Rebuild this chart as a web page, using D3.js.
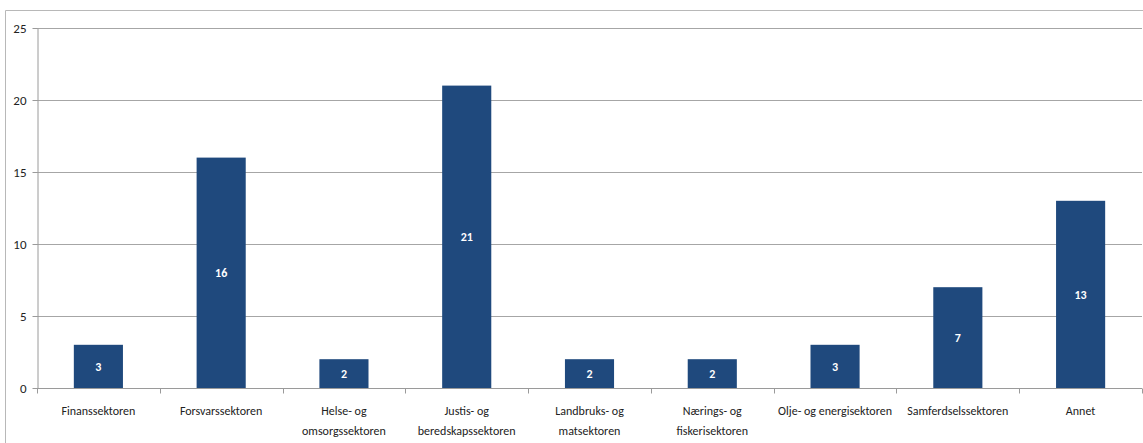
<!DOCTYPE html>
<html>
<head>
<meta charset="utf-8">
<script src="https://cdn.jsdelivr.net/npm/d3@7"></script>
<style>
  body { margin: 0; background: #fff; }
  svg text { font-family: Carlito, 'Liberation Sans Narrow', 'Liberation Sans', sans-serif; }
  .axis text { font-size: 12px; fill: #222; }
  .axis path, .axis line { stroke: #9a9a9a; }
  .grid line { stroke: #a6a6a6; }
  .val { font-size: 12px; font-weight: bold; fill: #fff; }
</style>
</head>
<body>
<svg id="chart"></svg>
<script>
// categories (label lines) and values
const categories = [
  ['Finanssektoren'],
  ['Forsvarssektoren'],
  ['Helse- og', 'omsorgssektoren'],
  ['Justis- og', 'beredskapssektoren'],
  ['Landbruks- og', 'matsektoren'],
  ['Nærings- og', 'fiskerisektoren'],
  ['Olje- og energisektoren'],
  ['Samferdselssektoren'],
  ['Annet']
];
const values = [3, 16, 2, 21, 2, 2, 3, 7, 13];
const yTicks = [0, 5, 10, 15, 20, 25];

const width = 1143, height = 443;
const margin = { top: 28, right: 1, left: 37, bottom: 55 };
const innerW = width - margin.left - margin.right;
const innerH = height - margin.top - margin.bottom;

const svg = d3.select('#chart').attr('width', width).attr('height', height);

// outer chart border (only top and left visible)
svg.append('path')
  .attr('d', `M5.5,${height} V10.5 H${width}`)
  .attr('fill', 'none')
  .attr('stroke', '#b8b8b8');

const chart = svg.append('g')
  .attr('transform', `translate(${margin.left},${margin.top})`);

const keys = categories.map(d => d.join(' '));
const data = keys.map((k, i) => ({ key: k, lines: categories[i], value: values[i] }));

const xScale = d3.scaleBand().domain(keys).range([0, innerW]).paddingInner(0.6).paddingOuter(0.3);
const yScale = d3.scaleLinear().domain([0, 25]).range([innerH, 0]);

// gridlines
chart.append('g').attr('class', 'grid')
  .selectAll('line')
  .data(yTicks.filter(t => t > 0))
  .join('line')
  .attr('x1', 0).attr('x2', innerW)
  .attr('y1', d => Math.round(yScale(d)) + 0.5)
  .attr('y2', d => Math.round(yScale(d)) + 0.5);

// y axis
const yAxisG = chart.append('g').attr('class', 'axis y-axis')
  .attr('transform', 'translate(0.5,0)')
  .call(d3.axisLeft(yScale).tickValues(yTicks).tickSize(5).tickPadding(6).tickSizeOuter(0));
yAxisG.selectAll('.tick text').style('font-size', '13px');

// x axis: ticks at band boundaries
const bandStep = innerW / keys.length;
const xAxisG = chart.append('g').attr('class', 'axis x-axis')
  .attr('transform', `translate(0,${Math.round(innerH) + 0.5})`);
xAxisG.append('line').attr('x1', 0).attr('x2', innerW);
xAxisG.selectAll('.xtick')
  .data(d3.range(keys.length + 1))
  .join('line')
  .attr('class', 'xtick')
  .attr('x1', i => Math.round(i * bandStep) + 0.5)
  .attr('x2', i => Math.round(i * bandStep) + 0.5)
  .attr('y1', 0).attr('y2', 5);

// x labels
const lbl = xAxisG.selectAll('.xlabel')
  .data(data)
  .join('text')
  .attr('class', 'xlabel')
  .attr('text-anchor', 'middle')
  .attr('x', d => xScale(d.key) + xScale.bandwidth() / 2)
  .attr('y', 26);
lbl.selectAll('tspan')
  .data(d => d.lines)
  .join('tspan')
  .attr('x', function () { return d3.select(this.parentNode).attr('x'); })
  .attr('dy', (d, i) => i === 0 ? 0 : 20)
  .text(d => d);

// bars
chart.selectAll('.bar')
  .data(data)
  .join('rect')
  .attr('class', 'bar')
  .attr('x', d => xScale(d.key))
  .attr('y', d => yScale(d.value))
  .attr('width', xScale.bandwidth())
  .attr('height', d => innerH - yScale(d.value))
  .attr('fill', '#1f497d');

// value labels
chart.selectAll('.val')
  .data(data)
  .join('text')
  .attr('class', 'val')
  .attr('text-anchor', 'middle')
  .attr('x', d => xScale(d.key) + xScale.bandwidth() / 2)
  .attr('y', d => (yScale(d.value) + innerH) / 2)
  .attr('dy', '0.35em')
  .text(d => d.value);
</script>
</body>
</html>
